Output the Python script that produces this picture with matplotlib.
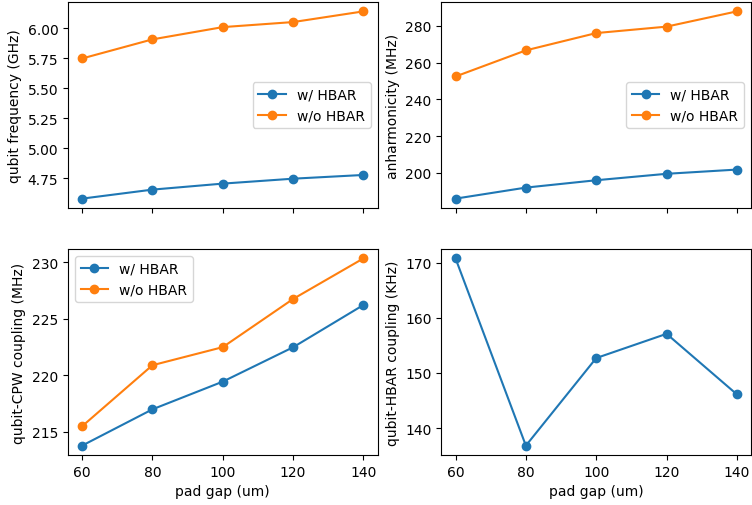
import matplotlib
matplotlib.use("Agg")
import matplotlib.pyplot as plt

pad_gap = [60, 80, 100, 120, 140]
freq_with = [4.581, 4.656, 4.706, 4.747, 4.778]
freq_without = [5.747, 5.906, 6.008, 6.050, 6.139]
anh_with = [186.0, 192.0, 196.0, 199.5, 201.8]
anh_without = [252.4, 266.6, 276.0, 279.5, 287.8]
cpw_with = [213.79, 217.0, 219.45, 222.49, 226.23]
cpw_without = [215.5, 220.9, 222.5, 226.76, 230.35]
hbar_coupling = [170.8, 136.8, 152.7, 157.1, 146.1]

fig, axes = plt.subplots(2, 2, sharex=True, figsize=(7.52, 5.06), dpi=100)
fig.subplots_adjust(left=68/752, right=751/752, top=1-3/506, bottom=1-456/506,
                    wspace=(442-378)/310, hspace=(250-209)/206)

ax = axes[0, 0]
ax.plot(pad_gap, freq_with, 'o-', label='w/ HBAR')
ax.plot(pad_gap, freq_without, 'o-', label='w/o HBAR')
ax.set_ylabel('qubit frequency (GHz)')
ax.legend(loc='center right')

ax = axes[0, 1]
ax.plot(pad_gap, anh_with, 'o-', label='w/ HBAR')
ax.plot(pad_gap, anh_without, 'o-', label='w/o HBAR')
ax.set_ylabel('anharmonicity (MHz)')
ax.legend(loc='center right')

ax = axes[1, 0]
ax.plot(pad_gap, cpw_with, 'o-', label='w/ HBAR')
ax.plot(pad_gap, cpw_without, 'o-', label='w/o HBAR')
ax.set_ylabel('qubit-CPW coupling (MHz)')
ax.set_xlabel('pad gap (um)')
ax.legend(loc='upper left')

ax = axes[1, 1]
ax.plot(pad_gap, hbar_coupling, 'o-')
ax.set_ylabel('qubit-HBAR coupling (KHz)')
ax.set_xlabel('pad gap (um)')

ax.set_xticks(pad_gap)

fig.savefig('out.png', dpi=100)
